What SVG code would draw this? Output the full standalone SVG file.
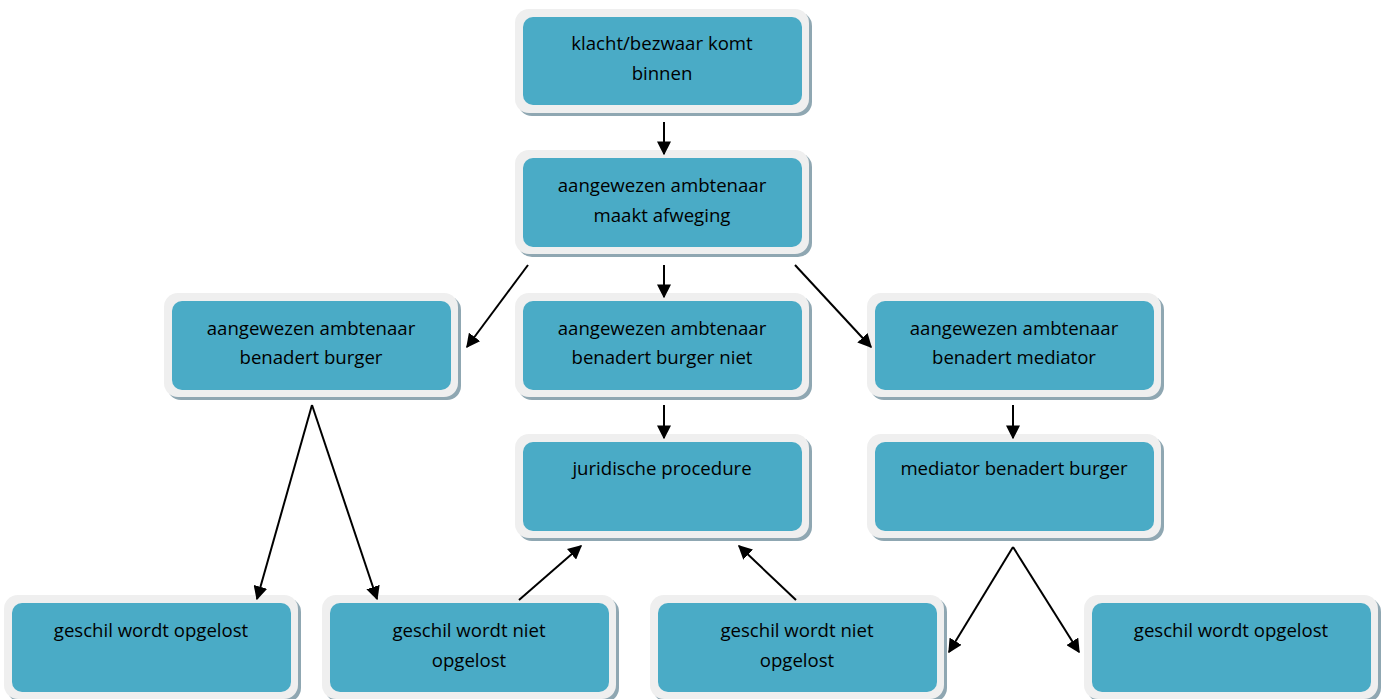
<svg xmlns="http://www.w3.org/2000/svg" width="1387" height="699" viewBox="0 0 1387 699">
<defs>
<style>
.sh{fill:#8fa7b2}
.out{fill:#efefef}
.in{fill:#4aabc6}
.t{font-family:"Open Sans","Liberation Sans",sans-serif;font-size:18.6px;fill:#000;text-anchor:middle}
.c{stroke:#000;stroke-width:2;fill:none}
</style>
<marker id="ah" viewBox="0 0 10 10" refX="9" refY="5" markerWidth="14" markerHeight="14" markerUnits="userSpaceOnUse" orient="auto">
<path d="M0,0 L10,5 L0,10 z" fill="#000"/>
</marker>
</defs>
<rect width="1387" height="699" fill="#fff"/>
<g id="n1"><rect class="sh" x="518" y="12" width="294" height="104" rx="14"/><rect class="out" x="515" y="9" width="294" height="104" rx="14"/><rect class="in" x="523" y="17" width="279" height="88" rx="10"/><text class="t" x="662" y="50">klacht/bezwaar komt</text><text class="t" x="662" y="80">binnen</text></g>
<g id="n2"><rect class="sh" x="518" y="153" width="294" height="104" rx="14"/><rect class="out" x="515" y="150" width="294" height="104" rx="14"/><rect class="in" x="523" y="158" width="279" height="89" rx="10"/><text class="t" x="662" y="192">aangewezen ambtenaar</text><text class="t" x="662" y="222">maakt afweging</text></g>
<g id="n3"><rect class="sh" x="167" y="296" width="294" height="104" rx="14"/><rect class="out" x="164" y="293" width="294" height="104" rx="14"/><rect class="in" x="172" y="301" width="279" height="89" rx="10"/><text class="t" x="311" y="335">aangewezen ambtenaar</text><text class="t" x="311" y="364">benadert burger</text></g>
<g id="n4"><rect class="sh" x="518" y="296" width="294" height="104" rx="14"/><rect class="out" x="515" y="293" width="294" height="104" rx="14"/><rect class="in" x="523" y="301" width="279" height="89" rx="10"/><text class="t" x="662" y="335">aangewezen ambtenaar</text><text class="t" x="662" y="364">benadert burger niet</text></g>
<g id="n5"><rect class="sh" x="870" y="296" width="294" height="104" rx="14"/><rect class="out" x="867" y="293" width="294" height="104" rx="14"/><rect class="in" x="875" y="301" width="279" height="89" rx="10"/><text class="t" x="1014" y="335">aangewezen ambtenaar</text><text class="t" x="1014" y="364">benadert mediator</text></g>
<g id="n6"><rect class="sh" x="518" y="437" width="294" height="104" rx="14"/><rect class="out" x="515" y="434" width="294" height="104" rx="14"/><rect class="in" x="523" y="442" width="279" height="89" rx="10"/><text class="t" x="662" y="475">juridische procedure</text></g>
<g id="n7"><rect class="sh" x="870" y="437" width="294" height="104" rx="14"/><rect class="out" x="867" y="434" width="294" height="104" rx="14"/><rect class="in" x="875" y="442" width="279" height="89" rx="10"/><text class="t" x="1014" y="475">mediator benadert burger</text></g>
<g id="n8"><rect class="sh" x="7" y="598" width="294" height="104" rx="14"/><rect class="out" x="4" y="595" width="294" height="104" rx="14"/><rect class="in" x="12" y="603" width="279" height="89" rx="10"/><text class="t" x="151" y="637">geschil wordt opgelost</text></g>
<g id="n9"><rect class="sh" x="325" y="598" width="294" height="104" rx="14"/><rect class="out" x="322" y="595" width="294" height="104" rx="14"/><rect class="in" x="330" y="603" width="279" height="89" rx="10"/><text class="t" x="469" y="637">geschil wordt niet</text><text class="t" x="469" y="667">opgelost</text></g>
<g id="n10"><rect class="sh" x="653" y="598" width="294" height="104" rx="14"/><rect class="out" x="650" y="595" width="294" height="104" rx="14"/><rect class="in" x="658" y="603" width="279" height="89" rx="10"/><text class="t" x="797" y="637">geschil wordt niet</text><text class="t" x="797" y="667">opgelost</text></g>
<g id="n11"><rect class="sh" x="1087" y="598" width="294" height="104" rx="14"/><rect class="out" x="1084" y="595" width="294" height="104" rx="14"/><rect class="in" x="1092" y="603" width="279" height="89" rx="10"/><text class="t" x="1231" y="637">geschil wordt opgelost</text></g>
<g id="connectors">
<path class="c" marker-end="url(#ah)" d="M664,122 L664,154"/>
<path class="c" marker-end="url(#ah)" d="M664,265 L664,297"/>
<path class="c" marker-end="url(#ah)" d="M528,265 L467,347"/>
<path class="c" marker-end="url(#ah)" d="M795,265 L871,347"/>
<path class="c" marker-end="url(#ah)" d="M664,405 L664,438"/>
<path class="c" marker-end="url(#ah)" d="M1013,405 L1013,438"/>
<path class="c" marker-end="url(#ah)" d="M312,405 L257,599"/>
<path class="c" marker-end="url(#ah)" d="M312,405 L377,599"/>
<path class="c" marker-end="url(#ah)" d="M519,600 L581,546"/>
<path class="c" marker-end="url(#ah)" d="M796,600 L739,546"/>
<path class="c" marker-end="url(#ah)" d="M1013,547 L949,652"/>
<path class="c" marker-end="url(#ah)" d="M1013,547 L1079,652"/>
</g>
</svg>
